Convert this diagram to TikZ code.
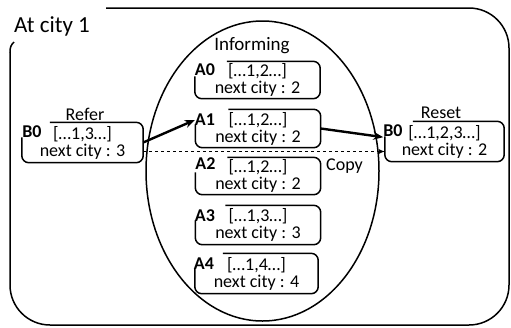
\documentclass[tikz,border=0pt]{standalone}
\usepackage{fontspec}
\setmainfont{Carlito}
\usetikzlibrary{arrows.meta,calc,shapes.geometric}
\begin{document}
\begin{tikzpicture}[x=1pt,y=-1pt,
  box/.style={minimum width=125pt,minimum height=38pt,inner sep=0pt,align=center,font=\fontsize{18}{17}\selectfont},
  lab/.style={font=\fontsize{18}{18}\selectfont\bfseries, inner sep=0pt},
  ttl/.style={font=\fontsize{18}{18}\selectfont, inner sep=0pt},
  outline/.style={line width=1.5pt, rounded corners=7pt},
  frame/.style={line width=1.5pt},
  thickarrow/.style={line width=2.4pt, -{Stealth[length=10pt,width=8pt]}},
  dasharrow/.style={line width=0.8pt, dashed, -{Latex[length=6pt,width=5pt]}}
]
\useasboundingbox (0,0) rectangle (511,327);

% outer frame
\draw[frame, rounded corners=40pt] (106,8) -- (509,8) -- (509,325) -- (10,325) -- (10,52);
\draw[frame] (10,52.5) .. controls (10,47) and (11,45) .. (14,42);
\node[ttl, font=\fontsize{23}{23}\selectfont] (city) at (52,26) {At city 1};

% informing ellipse
\node[draw, ellipse, line width=1.5pt, minimum width=233pt, minimum height=300pt, inner sep=0pt] (inform) at (262.5,171) {};
\node[ttl, font=\fontsize{19}{19}\selectfont] (informt) at (252,46) {Informing};

% A boxes
\node[box, minimum height=37pt] (A0box) at (257.5,80) {[…1,2…]\\next city : 2};
\node[box] (A1box) at (258,128.5) {[…1,2…]\\next city : 2};
\node[box, minimum height=37pt] (A2box) at (258,176) {[…1,2…]\\next city : 2};
\node[box, minimum height=39pt] (A3box) at (258,225) {[…1,3…]\\next city : 3};
\node[box, minimum width=123pt, minimum height=40pt] (A4box) at (256.5,273.5) {[…1,4…]\\next city : 4};

\draw[outline] ($(A0box.north west)+(32,0)$) -| (A0box.south east) -| ($(A0box.north west)+(0,15)$);
\draw[outline] ($(A1box.north west)+(33,0)$) -| (A1box.south east) -| ($(A1box.north west)+(0,15)$);
\draw[outline] ($(A2box.north west)+(32,0)$) -| (A2box.south east) -| ($(A2box.north west)+(0,15)$);
\draw[outline] ($(A3box.north west)+(30,0)$) -| (A3box.south east) -| ($(A3box.north west)+(0,15)$);
\draw[outline] ($(A4box.north west)+(28,0)$) -| (A4box.south east) -| ($(A4box.north west)+(0,15)$);

\node[lab] (A0lab) at (205,70) {A0};
\node[lab] (A1lab) at (205,120) {A1};
\node[lab] (A2lab) at (205.5,164) {A2};
\node[lab] (A3lab) at (205,216) {A3};
\node[lab] (A4lab) at (204,264) {A4};

% left B0 box
\node[box, minimum width=121pt, minimum height=40pt] (Lbox) at (82.5,142.5) {[…1,3…]\\next city : 3};
\draw[outline] ($(Lbox.north west)+(28,0)$) -| (Lbox.south east) -| ($(Lbox.north west)+(0,15)$);
\node[lab] (LB0lab) at (32,132) {B0};
\node[ttl] (refer) at (85,114) {Refer};

% right B0 box
\node[box, minimum width=119pt, minimum height=40pt] (Rbox) at (444.5,141.5) {[…1,2,3…]\\next city : 2};
\draw[outline] ($(Rbox.north west)+(28,0)$) -| (Rbox.south east) -| ($(Rbox.north west)+(0,15)$);
\node[lab] (RB0lab) at (393,131) {B0};
\node[ttl] (reset) at (441,112.5) {Reset};

\node[ttl] (copy) at (344.5,166) {Copy};

% connectors
\draw[thickarrow] (Lbox.east) -- (A1lab.west);
\draw[thickarrow] (A1box.east) -- (RB0lab.south west);
\draw[dasharrow] ([yshift=-9pt]Lbox.east) -- ([yshift=-10pt]Rbox.west);
\end{tikzpicture}
\end{document}
